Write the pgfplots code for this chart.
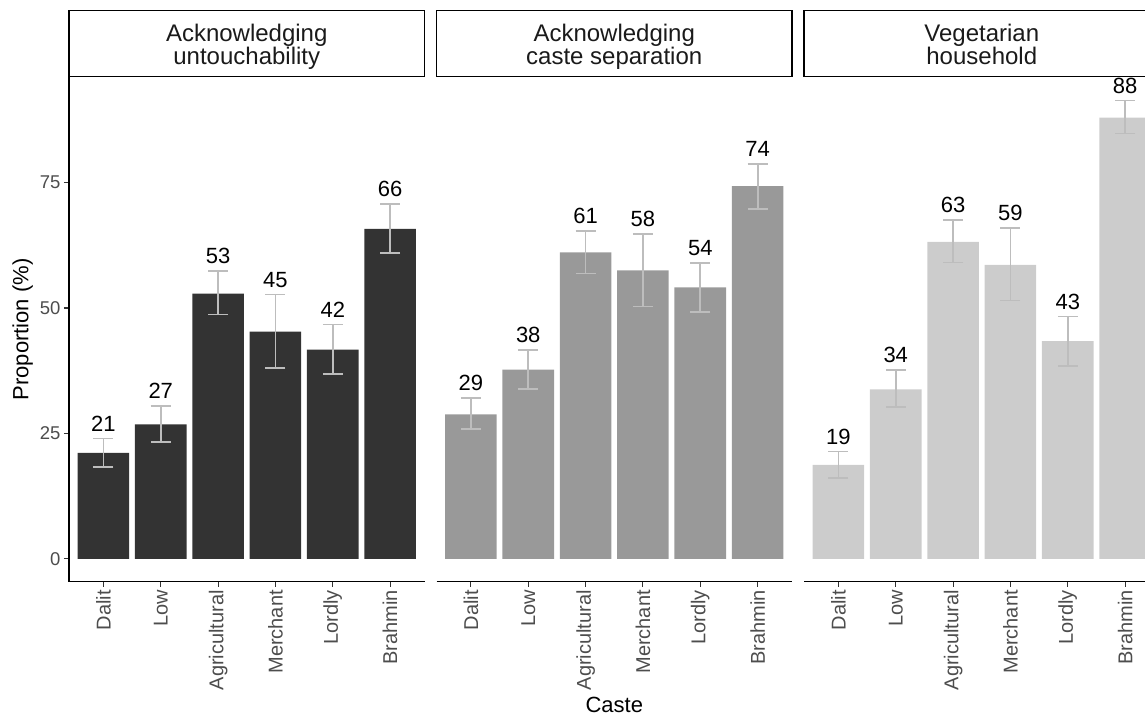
\documentclass[border=0pt]{standalone}
\usepackage{pgfplots}
\usepackage{pgfplotstable}
\pgfplotsset{compat=1.18}
\usepackage{fontspec}
\setmainfont{Liberation Sans}
\definecolor{barA}{HTML}{333333}
\definecolor{barB}{HTML}{999999}
\definecolor{barC}{HTML}{CCCCCC}
\definecolor{errc}{HTML}{BDBDBD}
\definecolor{tickgray}{HTML}{4D4D4D}
\definecolor{tickdark}{HTML}{333333}
\definecolor{striptext}{HTML}{1A1A1A}

\pgfplotstableread{
x y ep em lab
1 21.1 2.9 2.8 21
2 26.8 3.7 3.5 27
3 52.9 4.5 4.2 53
4 45.3 7.4 7.3 45
5 41.7 5.0 4.9 42
6 65.8 4.9 4.8 66
}\tabA
\pgfplotstableread{
x y ep em lab
1 28.8 3.2 2.9 29
2 37.7 3.9 3.9 38
3 61.1 4.3 4.2 61
4 57.5 7.3 7.2 58
5 54.1 4.9 4.9 54
6 74.3 4.4 4.5 74
}\tabB
\pgfplotstableread{
x y ep em lab
1 18.7 2.7 2.6 19
2 33.8 3.9 3.6 34
3 63.2 4.3 4.1 63
4 58.6 7.4 7.1 59
5 43.4 4.9 4.9 43
6 88.0 3.4 3.2 88
}\tabC

\tikzset{strip/.style={draw=black, line width=1.4pt}}
\pgfplotsset{
  panel/.style={
    scale only axis,
    width=355.5pt, height=504.7pt,
    anchor=south west,
    xmin=0.4, xmax=6.6, ymin=-4.575, ymax=96.08,
    xtick={1,2,3,4,5,6},
    xticklabels={Dalit,Low,Agricultural,Merchant,Lordly,Brahmin},
    x tick label style={rotate=90, anchor=east, font=\fontsize{20}{22}\selectfont, text=tickgray},
    y tick label style={font=\fontsize{18.5}{20}\selectfont, text=tickgray},
    /pgf/number format/assume math mode=true,
    tick align=outside,
    major tick length=5pt,
    tick style={draw=tickdark, line width=1.1pt},
    axis line style={line width=1.4pt, black},
    clip=false,
    every axis title/.style={at={(0.5,1)}, anchor=south, yshift=5pt,
      inner sep=0pt, align=center, text=striptext,
      font=\fontsize{24}{23.3}\selectfont},
    label style={font=\fontsize{22}{24}\selectfont, text=black},
  },
  bars/.style={ybar, bar width=0.9, fill=#1, draw=none, line width=1.8pt,
    mark options={line width=1.8pt},
    error bars/.cd, y dir=both, y explicit,
    error bar style={line width=1.8pt, draw=errc, solid},
    error mark options={rotate=90, line width=1.8pt, draw=errc, mark size=10pt}},
  labs/.style={draw=none, mark=none, nodes near coords, point meta=explicit symbolic,
    nodes near coords style={anchor=south, inner sep=0pt, yshift=7pt,
      font=\fontsize{22}{24}\selectfont, text=black}},
}

\begin{document}
\begin{tikzpicture}
\begin{axis}[panel, at={(69pt,135.3pt)},
  title={Acknowledging\\untouchability\strut},
  axis x line*=bottom, axis y line*=left,
  ytick={0,25,50,75},
  ylabel={Proportion (\%)}]
\addplot[bars=barA] table[x=x, y=y, y error plus=ep, y error minus=em] {\tabA};
\addplot[labs] table[x=x, y expr=\thisrow{y}+\thisrow{ep}, meta=lab] {\tabA};
\draw[strip] ([yshift=0.7pt]rel axis cs:0,1) rectangle ([yshift=66.2pt]rel axis cs:1,1);
\end{axis}
\begin{axis}[panel, at={(436.5pt,135.3pt)},
  title={Acknowledging\\caste separation\strut},
  axis x line*=bottom, axis y line=none, ytick=\empty,
  xlabel={Caste}]
\addplot[bars=barB] table[x=x, y=y, y error plus=ep, y error minus=em] {\tabB};
\addplot[labs] table[x=x, y expr=\thisrow{y}+\thisrow{ep}, meta=lab] {\tabB};
\draw[strip] ([yshift=0.7pt]rel axis cs:0,1) rectangle ([yshift=66.2pt]rel axis cs:1,1);
\end{axis}
\begin{axis}[panel, at={(804pt,135.3pt)},
  title={Vegetarian\\household\strut},
  axis x line*=bottom, axis y line=none, ytick=\empty]
\addplot[bars=barC] table[x=x, y=y, y error plus=ep, y error minus=em] {\tabC};
\addplot[labs] table[x=x, y expr=\thisrow{y}+\thisrow{ep}, meta=lab] {\tabC};
\draw[strip] ([yshift=0.7pt]rel axis cs:0,1) rectangle ([yshift=66.2pt]rel axis cs:1,1);
\end{axis}
\pgfresetboundingbox
\useasboundingbox (0pt,0pt) rectangle (1145pt,717pt);
\end{tikzpicture}
\end{document}
